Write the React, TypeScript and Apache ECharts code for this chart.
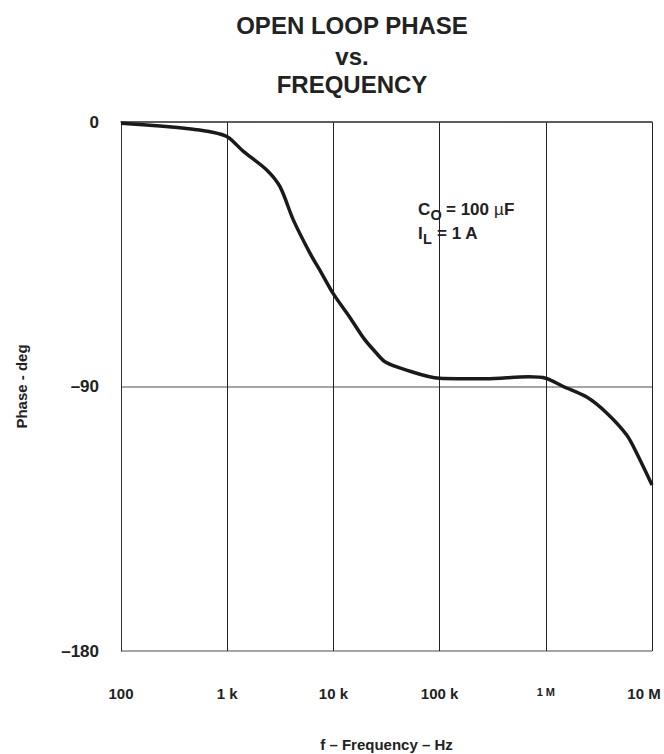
import React, { useEffect, useRef } from "react";
import * as echarts from "echarts";

const freqHz = [
  100, 233, 479, 689, 1000, 1420, 2355, 3140, 4190, 6030, 7700, 10000, 14300,
  19500, 24500, 30900, 45700, 100000, 272000, 689000, 1000000, 1460000,
  2430000, 3740000, 5780000, 7180000, 10000000,
];
const phaseDeg = [
  -0.4, -1.4, -2.5, -3.3, -5, -10, -16.3, -22, -33.3, -44.7, -51.3, -58.5,
  -66.5, -73.8, -78, -81.7, -84.1, -87.2, -87.4, -86.7, -87.2, -90, -93.6, -99,
  -106.5, -112.7, -123.5,
];
const xTickLabels = ["100", "1 k", "10 k", "100 k", "1 M", "10 M"];
const yTicks = [0, -90, -180];
const yTickLabels = ["0", "–90", "–180"];
const titleLines = ["OPEN LOOP PHASE", "vs.", "FREQUENCY"];

const FONT = "'Liberation Sans', Arial, sans-serif";

export default function App() {
  const ref = useRef<HTMLDivElement>(null);
  useEffect(() => {
    if (!ref.current) return;
    const chart = echarts.init(ref.current, null, { renderer: "svg" });
    const data = freqHz.map((f, i) => [f, phaseDeg[i]]);
    const titleY = [25, 56, 84];
    const main = (text: string, x: number, y: number, weight = "bold") => ({
      type: "text",
      x,
      y,
      style: {
        text,
        fontFamily: FONT,
        fontWeight: weight,
        fontSize: 17,
        fill: "#222",
        textAlign: "left",
        textVerticalAlign: "middle",
      },
    });
    const sub = (text: string, x: number, y: number) => ({
      type: "text",
      x,
      y,
      style: {
        text,
        fontFamily: FONT,
        fontWeight: "bold",
        fontSize: 14.5,
        fill: "#222",
        textAlign: "left",
        textVerticalAlign: "middle",
      },
    });
    const l1 = 209;
    const l2 = 233;
    const x0 = 418;
    chart.setOption({
      animation: false,
      backgroundColor: "#ffffff",
      grid: {
        left: 121,
        top: 122,
        right: 12,
        bottom: 103,
        containLabel: false,
        outerBoundsMode: "none",
      },
      xAxis: {
        type: "log",
        logBase: 10,
        min: 100,
        max: 10000000,
        name: "f – Frequency – Hz",
        nameLocation: "middle",
        nameGap: 86,
        nameTextStyle: { fontFamily: FONT, fontWeight: "bold", fontSize: 15, color: "#222" },
        axisLine: { show: true, lineStyle: { color: "#444", width: 1.5 } },
        axisTick: { show: false },
        minorTick: { show: false },
        splitLine: { show: true, lineStyle: { color: "#222", width: 1 } },
        axisLabel: {
          margin: 35,
          fontFamily: FONT,
          fontWeight: "bold",
          fontSize: 15,
          color: "#222",
          formatter: (v: number) => {
            const i = Math.round(Math.log10(v)) - 2;
            const t = xTickLabels[i] ?? "";
            if (i === 4) return "{s|" + t + "}";
            if (i === 5) return "{e|" + t + "}";
            return t;
          },
          rich: {
            s: { fontFamily: FONT, fontWeight: "bold", fontSize: 11, color: "#222" },
            e: {
              fontFamily: FONT,
              fontWeight: "bold",
              fontSize: 15,
              color: "#222",
              padding: [0, 16, 0, 0],
            },
          },
          showMinLabel: true,
          showMaxLabel: true,
        },
      },
      yAxis: {
        type: "value",
        min: -180,
        max: 0,
        interval: 90,
        name: "Phase - deg",
        nameLocation: "middle",
        nameGap: 92,
        nameRotate: 90,
        nameTextStyle: { fontFamily: FONT, fontWeight: "bold", fontSize: 15, color: "#222" },
        axisLine: { show: true, lineStyle: { color: "#333", width: 1 } },
        axisTick: { show: false },
        splitLine: { show: true, lineStyle: { color: "#888", width: 1.5 } },
        axisLabel: {
          margin: 22,
          fontFamily: FONT,
          fontWeight: "bold",
          fontSize: 17,
          color: "#222",
          formatter: (v: number) => {
            const i = yTicks.indexOf(v);
            return i >= 0 ? yTickLabels[i] : "";
          },
        },
      },
      graphic: [
        ...titleLines.map((t, i) => ({
          type: "text",
          x: 352,
          y: titleY[i],
          style: {
            text: t,
            fontFamily: FONT,
            fontWeight: "bold",
            fontSize: 24,
            fill: "#222",
            textAlign: "center",
            textVerticalAlign: "middle",
          },
        })),
        main("C", x0, l1),
        sub("O", x0 + 12.5, l1 + 6),
        main("= 100", x0 + 28, l1),
        main("µ", x0 + 76, l1, "normal"),
        main("F", x0 + 86, l1),
        main("I", x0, l2),
        sub("L", x0 + 5, l2 + 6),
        main("= 1 A", x0 + 19, l2),
      ],
      series: [
        {
          type: "line",
          data,
          smooth: 0.3,
          showSymbol: false,
          symbol: "none",
          lineStyle: { color: "#1a1a1a", width: 3.5 },
        },
      ],
    });
    return () => chart.dispose();
  }, []);
  return (
    <div
      ref={ref}
      style={{ position: "fixed", left: 0, top: 0, width: 664, height: 754 }}
    />
  );
}
